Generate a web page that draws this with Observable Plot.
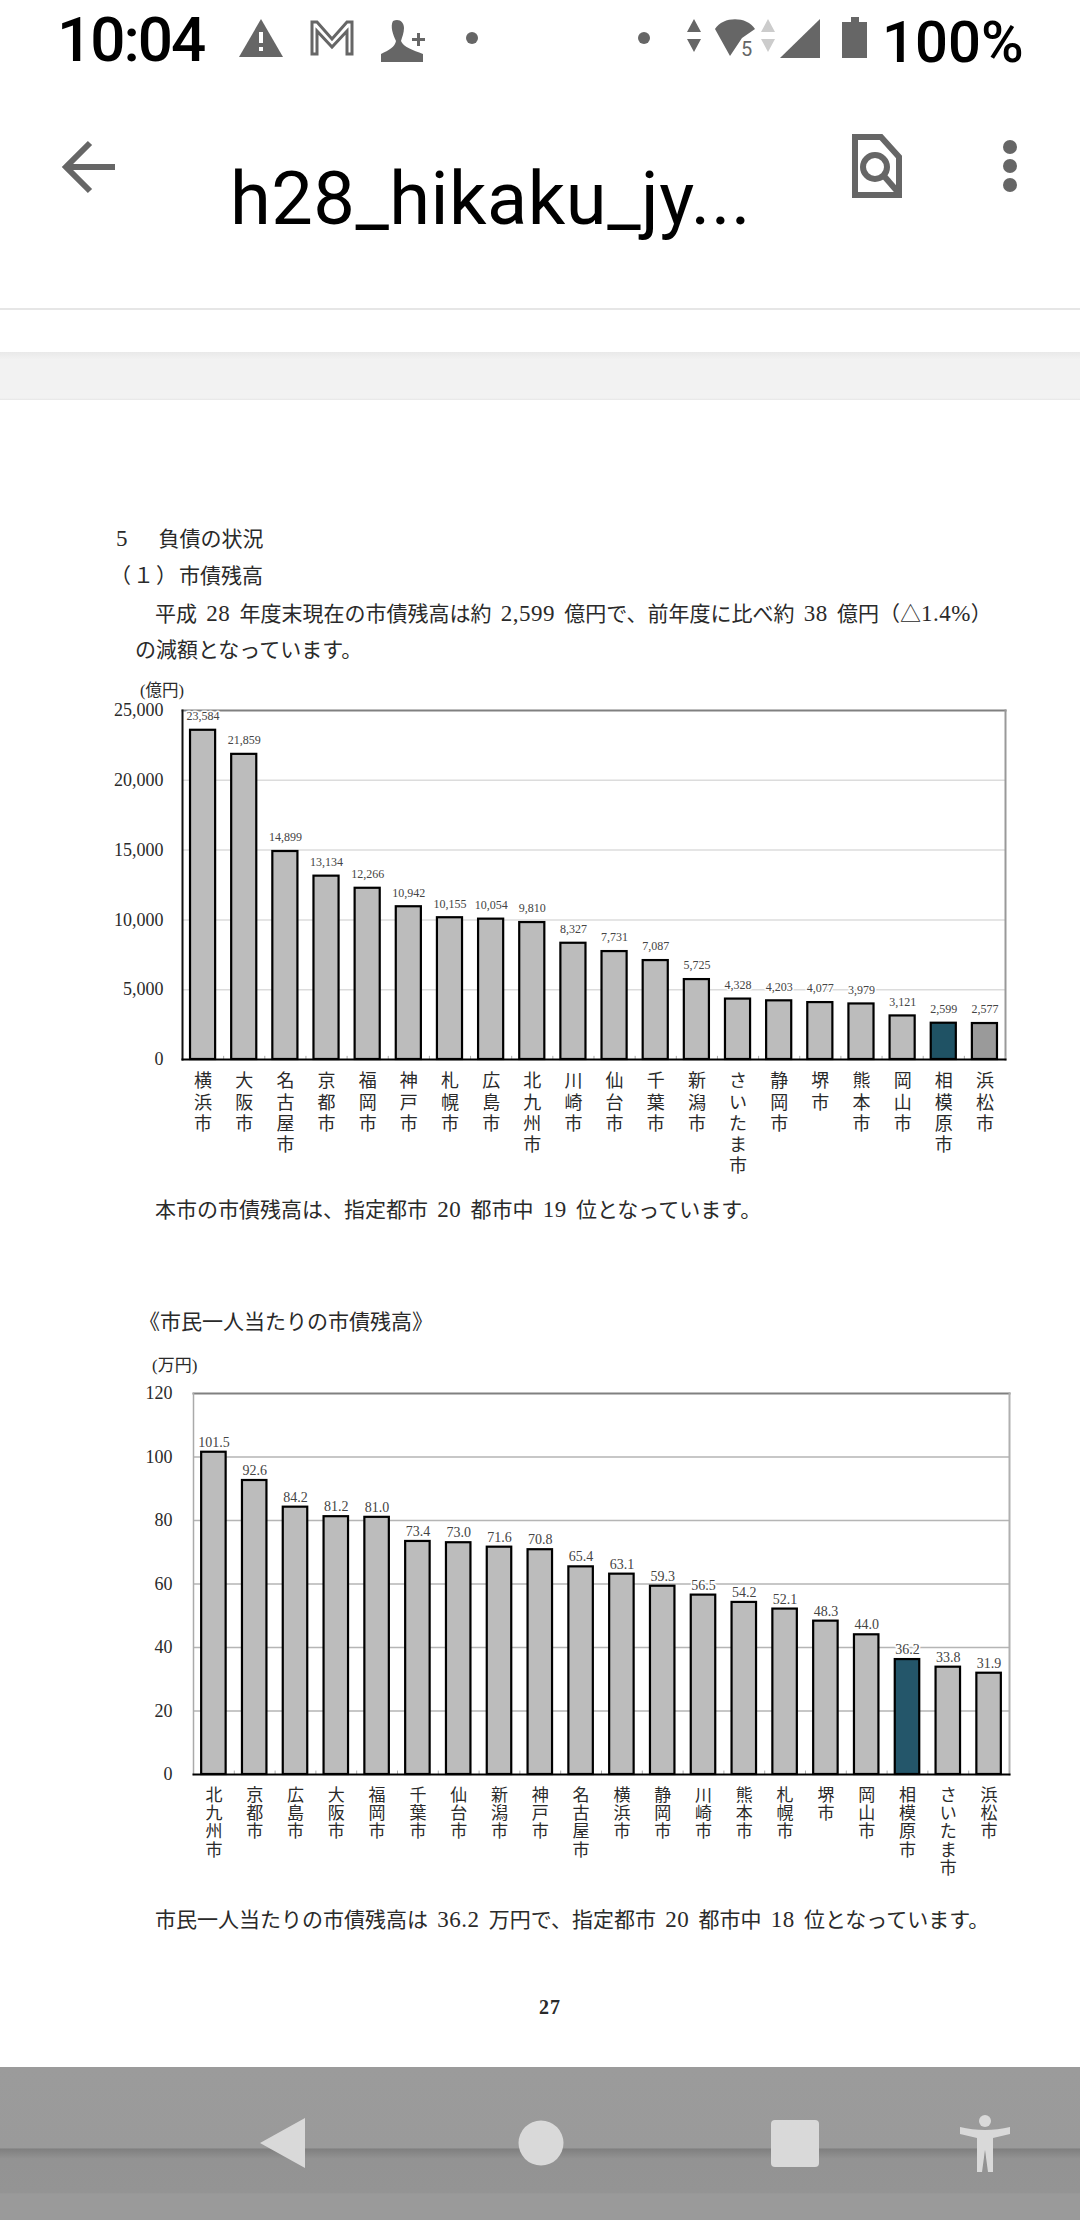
<!DOCTYPE html>
<html lang="ja">
<head>
<meta charset="utf-8">
<script src="https://cdn.jsdelivr.net/npm/d3@7"></script>
<script src="https://cdn.jsdelivr.net/npm/@observablehq/plot@0.6"></script>
<style>
html,body{margin:0;padding:0;background:#fff;}
#page{position:relative;width:1080px;height:2220px;overflow:hidden;background:#fff;font-family:"Liberation Serif","Noto Sans CJK JP",serif;color:#2a2a2a;}
.t{position:absolute;white-space:nowrap;transform:translateY(-50%);line-height:1;word-spacing:4px;}
.d{font-size:23px;letter-spacing:.5px;}
.r{font-family:Roboto,sans-serif;word-spacing:0;}
.band{position:absolute;left:0;width:1080px;}
#page svg.chart{position:absolute;}
</style>
</head>
<body>
<div id="page">
  <div class="band" style="top:308px;height:2px;background:#e6e6e6"></div>
  <div class="band" style="top:352px;height:48px;background:linear-gradient(#e9e9e9,#f2f2f2 16%,#f2f2f2 96%,#e6e6e6)"></div>
  <div class="band" style="top:2067px;height:153px;background:linear-gradient(#9b9b9b 0,#9a9a9a 53%,#7f7f7f 53.5%,#939393 60%,#949494 82%,#9a9a9a 83%)"></div>

  <div class="t r" style="left:57px;top:40px;font-size:62px;font-weight:500;color:#000;letter-spacing:-2px">10:04</div>
  <div class="t r" style="left:882px;top:42px;font-size:58px;font-weight:500;color:#000">100%</div>
  <div class="t r" style="left:230px;top:199px;font-size:74px;letter-spacing:0.5px;color:#000">h28_hikaku_jy...</div>

  <svg width="1080" height="2220" style="position:absolute;left:0;top:0" fill="#666">
    <path d="M261 19l22 38h-44z"/><rect x="259" y="32" width="4" height="11" fill="#fff"/><rect x="259" y="47" width="4" height="4" fill="#fff"/>
    <path d="M312 54V22h5l15 17 15-17h5v32h-5V31L332 47 317 31v23z" fill="none" stroke="#666" stroke-width="3"/>
    <path d="M393 21c6-3 11 1 11 7 0 5-2 9-3 13 2 6 12 9 22 13v8h-42v-8c8-4 14-7 15-13-3-6-6-15-3-20z"/><path d="M417 33h3v5h5v3h-5v5h-3v-5h-5v-3h5z"/>
    <circle cx="472" cy="38" r="6"/><circle cx="644" cy="38" r="6"/>
    <path d="M694 19l7 13h-14zM694 52l7-13h-14z"/>
    <path d="M730 56l-15-27c8-13 32-13 40 0l-13 9-12 18z"/>
    <text x="741" y="56" font-family="Roboto,sans-serif" font-size="20">5</text>
    <path d="M768 19l7 13h-14zM768 52l7-13h-14z" fill="#ccc"/>
    <path d="M820 19v39h-40z"/>
    <path d="M851 17h8v5h8v36h-25V22h9z"/>
    <path d="M69 167h46M90 143l-24 24 24 24" fill="none" stroke="#666" stroke-width="6"/>
    <path d="M855 137h26l18 20v38h-44z" fill="none" stroke="#666" stroke-width="6"/>
    <circle cx="875" cy="167" r="12" fill="none" stroke="#666" stroke-width="6"/><path d="M884 176l13 15" stroke="#666" stroke-width="6"/>
    <circle cx="1010" cy="147" r="7"/><circle cx="1010" cy="166" r="7"/><circle cx="1010" cy="185" r="7"/>
    <g fill="#d9d9d9">
      <path d="M305 2118v50l-45-25z"/>
      <circle cx="541" cy="2143" r="22.5"/>
      <rect x="771" y="2120" width="48" height="47" rx="4"/>
      <circle cx="985" cy="2121" r="6"/>
      <path d="M960 2127c16 4 34 4 50 0v7l-17 4v34h-5l-3-22-3 22h-5v-34l-17-4z"/>
    </g>
  </svg>

  <div class="t" style="left:116px;top:538px;font-size:21px"><span style="font-size:23px">5</span><span style="margin-left:31px">負債の状況</span></div>
  <div class="t" style="left:110px;top:576px;font-size:21px;letter-spacing:2px">（１）<span style="letter-spacing:0">市債残高</span></div>
  <div class="t" style="left:155px;top:613px;font-size:21px">平成 <span class="d">28</span> 年度末現在の市債残高は約 <span class="d">2,599</span> 億円で、前年度に比べ約 <span class="d">38</span> 億円（△<span class="d">1.4%</span>）</div>
  <div class="t" style="left:135px;top:650px;font-size:21px">の減額となっています。</div>
  <div class="t" style="left:140px;top:691px;font-size:16.5px">(億円)</div>
  <div class="t" style="left:155px;top:1209px;font-size:21px">本市の市債残高は、指定都市 <span class="d">20</span> 都市中 <span class="d">19</span> 位となっています。</div>
  <div class="t" style="left:139px;top:1322px;font-size:21px">《市民一人当たりの市債残高》</div>
  <div class="t" style="left:152px;top:1365px;font-size:17px">(万円)</div>
  <div class="t" style="left:155px;top:1919px;font-size:21px">市民一人当たりの市債残高は <span class="d">36.2</span> 万円で、指定都市 <span class="d">20</span> 都市中 <span class="d">18</span> 位となっています。</div>
  <div class="t" style="left:539px;top:2007px;font-size:20px;font-weight:bold;letter-spacing:1px">27</div>
</div>
<script>
const debtCities = ["横浜市","大阪市","名古屋市","京都市","福岡市","神戸市","札幌市","広島市","北九州市","川崎市","仙台市","千葉市","新潟市","さいたま市","静岡市","堺市","熊本市","岡山市","相模原市","浜松市"];
const debtValues = [23584,21859,14899,13134,12266,10942,10155,10054,9810,8327,7731,7087,5725,4328,4203,4077,3979,3121,2599,2577];
const debtTicks = [0,5000,10000,15000,20000,25000];

const perCapitaCities = ["北九州市","京都市","広島市","大阪市","福岡市","千葉市","仙台市","新潟市","神戸市","名古屋市","横浜市","静岡市","川崎市","熊本市","札幌市","堺市","岡山市","相模原市","さいたま市","浜松市"];
const perCapitaValues = [101.5,92.6,84.2,81.2,81.0,73.4,73.0,71.6,70.8,65.4,63.1,59.3,56.5,54.2,52.1,48.3,44.0,36.2,33.8,31.9];
const perCapitaTicks = [0,20,40,60,80,100,120];

const FONT = '"Liberation Serif","Noto Sans CJK JP",serif';
const stack = s => [...s].join("\n");

function chart(o) {
  const data = o.cities.map((city, i) => ({city, value: o.values[i]}));
  const svg = Plot.plot({
    width: o.width, height: o.height,
    marginLeft: o.ml, marginRight: o.mr, marginTop: o.mt, marginBottom: o.mb,
    style: {fontFamily: FONT, background: "transparent", overflow: "visible", color: "#2a2a2a"},
    x: {domain: o.cities, paddingInner: o.padding, paddingOuter: o.padding / 2, align: 0.5, round: false, label: null, axis: null},
    y: {domain: o.domain, label: null, axis: null},
    marks: [
      Plot.gridY(o.ticks.slice(1, -1), {stroke: o.gridColor, strokeOpacity: 1, strokeWidth: o.gridWidth}),
      Plot.frame({anchor: "top", stroke: "#808080", strokeWidth: 2}),
      Plot.frame({anchor: "right", stroke: o.rightColor, strokeWidth: 2}),
      Plot.frame({anchor: "left", stroke: o.leftColor, strokeWidth: o.leftWidth}),
      Plot.ruleX(o.cities, {x: d => d, y1: 0, y2: o.domain[1] * 0.009, dx: o.step / 2, stroke: "#aaa", strokeWidth: 1}),
      Plot.text(data, {x: "city", y: "value", text: d => o.fmt(d.value), dy: o.labelDy, fontSize: o.labelSize, fill: "#444", stroke: "white", strokeWidth: 3, paintOrder: "stroke"}),
      Plot.barY(data, {x: "city", y: "value", fill: d => o.fill(d.city), stroke: "#000", strokeWidth: 2.2}),
      Plot.frame({anchor: "bottom", stroke: "#000", strokeWidth: 2}),
      Plot.axisY(o.ticks, {anchor: "left", tickSize: 0, tickPadding: o.tickPadding, fontSize: 18, tickFormat: d3.format(","), label: null, fill: "#2a2a2a"}),
      Plot.axisX({anchor: "bottom", tickSize: 0, tickPadding: 13, fontSize: o.catSize, lineHeight: o.catLine, tickFormat: stack, label: null, lineAnchor: "top", fill: "#2a2a2a"})
    ]
  });
  svg.classList.add("chart");
  svg.style.left = o.left + "px";
  svg.style.top = o.top + "px";
  document.getElementById("page").appendChild(svg);
}

chart({
  cities: debtCities, values: debtValues, ticks: debtTicks, domain: [0, 25000],
  left: 100, top: 690, width: 920, height: 495, ml: 82, mr: 15, mt: 20, mb: 126,
  padding: 0.39, step: 41.15, tickPadding: 19,
  gridColor: "#dcdcdc", gridWidth: 1.5, rightColor: "#999", leftColor: "#111", leftWidth: 2,
  labelDy: -14, labelSize: 12, catSize: 18, catLine: 1.17,
  fmt: d3.format(","),
  fill: c => c === "相模原市" ? "#1f5264" : c === "浜松市" ? "#9a9a9a" : "#bcbcbc"
});

chart({
  cities: perCapitaCities, values: perCapitaValues, ticks: perCapitaTicks, domain: [0, 120],
  left: 100, top: 1375, width: 925, height: 515, ml: 93, mr: 16, mt: 18, mb: 116,
  padding: 0.4, step: 40.8, tickPadding: 21,
  gridColor: "#b5b5b5", gridWidth: 1.5, rightColor: "#b0b0b0", leftColor: "#aaa", leftWidth: 1.5,
  labelDy: -10, labelSize: 14, catSize: 17, catLine: 1.08,
  fmt: d3.format(".1f"),
  fill: c => c === "相模原市" ? "#24566a" : "#bcbcbc"
});
</script>
</body>
</html>
